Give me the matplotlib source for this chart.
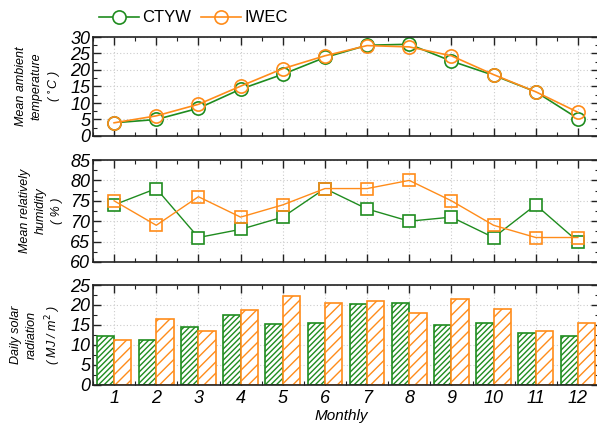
import matplotlib
matplotlib.use("Agg")
import matplotlib.pyplot as plt
import numpy as np
from matplotlib.ticker import MultipleLocator

plt.rcParams['font.family'] = ['Liberation Sans', 'DejaVu Sans']
plt.rcParams['hatch.linewidth'] = 1.0

months = list(range(1, 13))
month_labels = [str(m) for m in months]

temp_ctyw = [4.0, 5.0, 8.4, 14.2, 18.7, 23.8, 27.5, 27.8, 22.7, 18.4, 13.4, 5.3]
temp_iwec = [4.0, 6.1, 9.6, 15.1, 20.4, 24.3, 27.4, 27.0, 24.3, 18.6, 13.4, 7.2]

hum_ctyw = [74, 78, 66, 68, 71, 78, 73, 70, 71, 66, 74, 65]
hum_iwec = [75, 69, 76, 71, 74, 78, 78, 80, 75, 69, 66, 66]

sol_ctyw = [12.2, 11.1, 14.5, 17.4, 15.2, 15.4, 20.3, 20.5, 14.9, 15.5, 13.0, 12.3]
sol_iwec = [11.2, 16.5, 13.4, 18.7, 22.2, 20.6, 21.0, 17.9, 21.4, 18.9, 13.5, 15.4]

GREEN = '#1f8c1f'
ORANGE = '#ff8c1a'

fig = plt.figure(figsize=(5.97, 4.23), dpi=100)
W, H = 597, 423
left = 93 / W
right = 599 / W
def ax_at(top_px, bot_px):
    return fig.add_axes([left, 1 - bot_px / H, right - left, (bot_px - top_px) / H])

ax1 = ax_at(37, 136)
ax2 = ax_at(160, 262)
ax3 = ax_at(285, 384.5)

tick_font = dict(fontsize=13, style='italic')
lab_font = dict(fontsize=9, style='italic', linespacing=1.4)
LABX = -0.06

def style(ax, ymin, ymax, ystep, show_x):
    ax.set_xlim(0.5, 12.5)
    ax.set_ylim(ymin, ymax)
    ax.xaxis.set_major_locator(MultipleLocator(1))
    ax.xaxis.set_minor_locator(MultipleLocator(0.5))
    ax.yaxis.set_major_locator(MultipleLocator(ystep))
    ax.yaxis.set_minor_locator(MultipleLocator(ystep / 2))
    ax.tick_params(which='both', direction='in', top=True, right=True, color='#222222')
    ax.tick_params(which='major', length=6, width=1)
    ax.tick_params(which='minor', length=3, width=0.8)
    ax.grid(True, which='major', linestyle=(0, (1, 2)), color='#cccccc', linewidth=0.8)
    ax.set_axisbelow(True)
    for s in ax.spines.values():
        s.set_linewidth(1.2)
        s.set_color('#222222')
    ax.set_xticks(months)
    if show_x:
        ax.set_xticklabels(month_labels, **tick_font)
    else:
        ax.set_xticklabels([])
    ax.set_yticks(np.arange(ymin, ymax + 0.01, ystep))
    ax.set_yticklabels([str(int(v)) for v in np.arange(ymin, ymax + 0.01, ystep)], **tick_font)
    ax.tick_params(axis='y', pad=2)
    ax.tick_params(axis='x', pad=4)

# Temperature
l1, = ax1.plot(months, temp_ctyw, '-o', color=GREEN, mfc='white', mec=GREEN, ms=9.5, lw=1.2, mew=1.2, label='CTYW')
l2, = ax1.plot(months, temp_iwec, '-o', color=ORANGE, mfc='none', mec=ORANGE, ms=9.5, lw=1.2, mew=1.2, label='IWEC')
style(ax1, 0, 30, 5, False)
ax1.set_ylabel('Mean ambient\ntemperature\n( $^{\\circ}$C )', **lab_font)
ax1.yaxis.set_label_coords(LABX, 0.5)

# Humidity
ax2.plot(months, hum_ctyw, '-s', color=GREEN, mfc='white', mec=GREEN, ms=8, lw=1.0, mew=1.2)
ax2.plot(months, hum_iwec, '-s', color=ORANGE, mfc='none', mec=ORANGE, ms=8, lw=1.0, mew=1.2)
style(ax2, 60, 85, 5, False)
ax2.set_ylabel('Mean relatively\nhumidity\n( % )', **lab_font)
ax2.yaxis.set_label_coords(LABX, 0.5)

# Solar
x = np.array(months)
bw = 0.41
ax3.bar(x - bw / 2, sol_ctyw, width=bw, color='white', edgecolor=GREEN, hatch='//////', linewidth=1.2)
ax3.bar(x + bw / 2, sol_iwec, width=bw, color='white', edgecolor=ORANGE, hatch='///', linewidth=1.2)
style(ax3, 0, 25, 5, True)
ax3.set_ylabel('Daily solar\nradiation\n( MJ / m$^{2}$ )', **lab_font)
ax3.yaxis.set_label_coords(LABX, 0.5)
ax3.set_xlabel('Monthly', fontsize=11, style='italic', labelpad=0)
ax3.xaxis.set_label_coords(0.49, -0.245)

fig.legend(handles=[l1, l2], labels=['CTYW', 'IWEC'], loc='center left',
           bbox_to_anchor=(99 / W, 1 - 18 / H), ncol=2, frameon=False,
           fontsize=12, handlelength=2.4, handletextpad=0.2, columnspacing=0.6,
           borderaxespad=0, borderpad=0)

fig.savefig('out.png', dpi=100)
